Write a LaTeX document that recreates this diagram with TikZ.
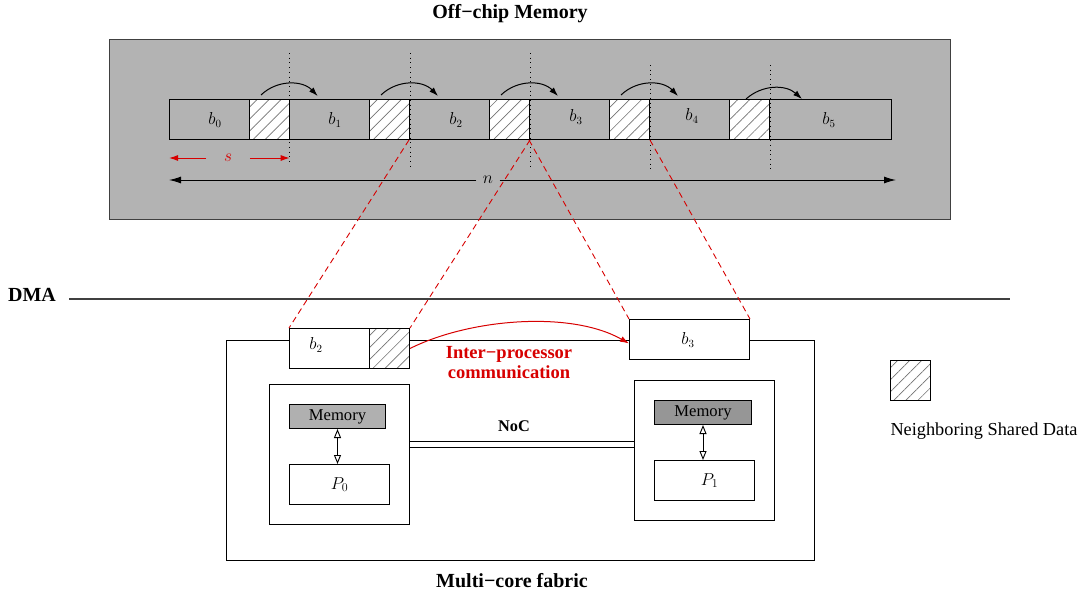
\documentclass[tikz,border=0pt]{standalone}
\usepackage{fontspec}
\setmainfont{Liberation Serif}
\usetikzlibrary{arrows.meta,patterns.meta}
\definecolor{bg}{RGB}{179,179,179}
\definecolor{memA}{RGB}{176,176,176}
\definecolor{memB}{RGB}{150,150,150}
\definecolor{myred}{RGB}{215,0,0}
\newcommand\fsz[1]{\fontsize{#1}{20}\selectfont}
\begin{document}
\begin{tikzpicture}[x=1pt,y=-1pt,line width=1pt,
  box/.style={draw, inner sep=0pt, anchor=north west},
  cellbox/.style={box, minimum height=40pt},
  hatchbox/.style={box, minimum width=40pt, minimum height=40pt, preaction={fill=white}, pattern={Lines[angle=45,distance=8.5pt,line width=0.7pt]}, pattern color=black!55},
  jump/.style={-{Latex[length=9pt,width=6pt]}},
  guide/.style={line width=1pt, dash pattern=on 1pt off 3.7pt},
  reddash/.style={myred, line width=0.9pt, dash pattern=on 6pt off 4pt},
  bt/.style={font=\bfseries\fsz{20}},
  mlab/.style={font=\fsz{16}},
  dbl/.style={{Triangle[open,length=9pt,width=7pt]}-{Triangle[open,length=9pt,width=7pt]}, line width=0.9pt}
]
\useasboundingbox (0,0) rectangle (1087,597);
% off-chip memory
\node[box, draw=black!75, line width=0.8pt, fill=bg, minimum width=841pt, minimum height=180pt] (offchip) at (109,39) {};
\node[bt] (title) at (510,14) {Off−chip Memory};
\node[cellbox, minimum width=80pt] (c0) at (169,99) {};
\node[hatchbox] (h1) at (249,99) {};
\node[cellbox, minimum width=80pt] (c1) at (289,99) {};
\node[hatchbox] (h2) at (369,99) {};
\node[cellbox, minimum width=80pt] (c2) at (409,99) {};
\node[hatchbox] (h3) at (489,99) {};
\node[cellbox, minimum width=80pt] (c3) at (529,99) {};
\node[hatchbox] (h4) at (609,99) {};
\node[cellbox, minimum width=80pt] (c4) at (649,99) {};
\node[hatchbox] (h5) at (729,99) {};
\node[cellbox, minimum width=122pt] (c5) at (769,99) {};
\node[mlab] (lb0) at (215,120) {$b_0$};
\node[mlab] (lb1) at (335,120) {$b_1$};
\node[mlab] (lb2) at (456,120) {$b_2$};
\node[mlab] (lb3) at (576,117) {$b_3$};
\node[mlab] (lb4) at (692,116) {$b_4$};
\node[mlab] (lb5) at (829,120) {$b_5$};
% dotted guides
\foreach \h in {h1,h2,h3}{
  \draw[guide] ([yshift=46pt]\h.north east) -- ([yshift=-26pt]\h.south east);}
\foreach \h in {h4,h5}{
  \draw[guide] ([yshift=34pt]\h.north east) -- ([yshift=-33pt]\h.south east);}
% jump arrows
\foreach \h in {h1,h2,h3,h4}{
  \draw[jump] ([xshift=12pt,yshift=4pt]\h.north west) to[bend left=45] ([xshift=28pt,yshift=3pt]\h.north east);}
\draw[jump] ([xshift=17pt,yshift=0pt]h5.north west) to[bend left=42] ([xshift=32pt,yshift=0pt]h5.north east);
% s and n
\node[mlab, text=myred] (s) at (228,158) {$s$};
\draw[myred,jump] ([xshift=-14pt]s.west) -- (s.west -| c0.west);
\draw[myred,jump] ([xshift=14pt]s.east) -- (s.east -| h1.east);
\node[mlab, inner sep=6pt] (n) at (488,180) {$n$};
\draw[-{Latex[length=12pt,width=7pt]}] (n.west) -- (n.west -| c0.west);
\draw[-{Latex[length=12pt,width=7pt]}] (n.east) -- ([xshift=4pt]n.east -| c5.east);
% DMA
\node[bt] (dma) at (32,295) {DMA};
\coordinate (dmaL) at (69,299);
\coordinate (dmaR) at (1010,299);
\draw[line width=1.4pt, black!75] (dmaL) -- (dmaR);
% fabric
\node[box, minimum width=588pt, minimum height=220pt] (fab) at (226,340) {};
\node[bt] (fablab) at (512,581) {Multi−core fabric};
\node[cellbox, minimum width=80pt, fill=white] (b2box) at (289,328) {};
\node[hatchbox] (h2b) at (369,328) {};
\node[mlab] (lb2b) at (316,345) {$b_2$};
\node[cellbox, minimum width=120pt, fill=white] (b3box) at (629,319) {};
\node[mlab] (lb3b) at (688,340) {$b_3$};
% dashed projections
\draw[reddash] (c2.south west) -- (b2box.north west);
\draw[reddash] (h3.south east) -- (h2b.north east);
\draw[reddash] (c3.south west) -- (b3box.north west);
\draw[reddash] (h4.south east) -- (b3box.north east);
% inter-processor communication
\draw[myred, line width=1pt, -{Latex[length=9pt,width=6pt]}] (h2b.east) .. controls +(60,-30) and +(-58,-33) .. ([yshift=-4pt]b3box.west);
\node[font=\bfseries\fsz{18.5}, text=myred, align=center] (ipc) at (509,363) {Inter−processor\\communication};
% processors
\node[box, minimum width=140pt, minimum height=140pt] (pe0) at (269,384) {};
\node[box, minimum width=96pt, minimum height=24pt, fill=memA, font=\fsz{16.6}] (mem0) at (289,404) {Memory};
\node[box, minimum width=100pt, minimum height=40pt, font=\fsz{18}] (p0) at (289,464) {$P_0$};
\draw[dbl] (mem0.south) -- (mem0.south |- p0.north);
\node[box, minimum width=140pt, minimum height=140pt] (pe1) at (634,380) {};
\node[box, minimum width=97pt, minimum height=24pt, fill=memB, font=\fsz{16.6}] (mem1) at (654,400) {Memory};
\node[box, minimum width=100pt, minimum height=40pt, label={[font=\fsz{18}, xshift=5pt]center:$P_1$}] (p1) at (654,460) {};
\draw[dbl] (mem1.south) -- (mem1.south |- p1.north);
% NoC
\coordinate (nocy) at (0,444.5);
\draw[double, double distance=5.7pt, line width=1pt] (pe0.east |- nocy) -- (pe1.west |- nocy);
\node[font=\bfseries\fsz{16.3}] (noc) at (514,426) {NoC};
% legend
\node[hatchbox] (leg) at (890,360) {};
\node[font=\fsz{18.3}] (legt) at (984,431) {Neighboring Shared Data};
\end{tikzpicture}
\end{document}
